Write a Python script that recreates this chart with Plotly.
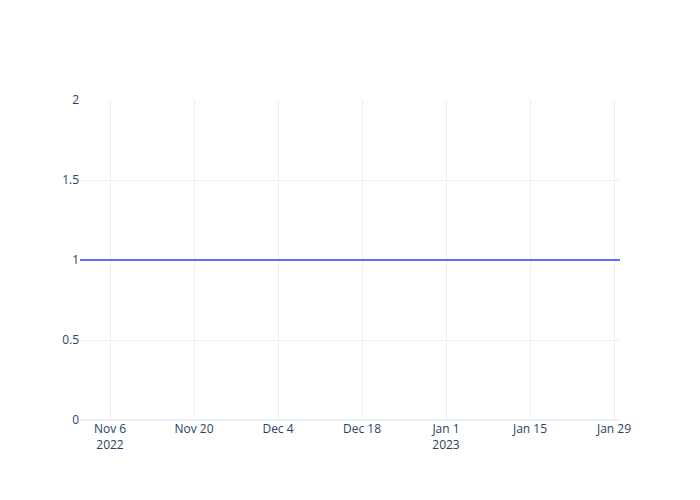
import plotly.graph_objects as go

dates = ["2022-11-01", "2023-01-30"]
values = [1, 1]

fig = go.Figure(go.Scatter(x=dates, y=values, mode="lines"))
fig.update_layout(template="plotly_white", width=692, height=492,
                  margin=dict(l=72, r=80, t=92, b=80))
fig.update_yaxes(range=[0, 2])
fig.write_html("out.html")
